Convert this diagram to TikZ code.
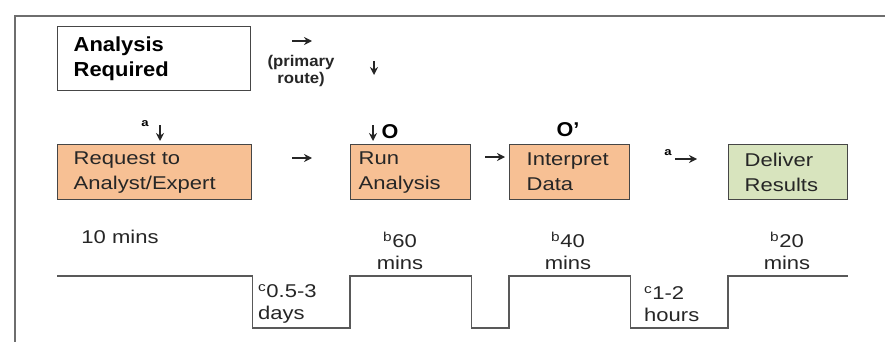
\documentclass[tikz,border=0pt]{standalone}
\usepackage{fontspec}
\usetikzlibrary{arrows.meta}
\setmainfont[FakeStretch=1.19]{Liberation Sans}
\newfontfamily\headfont[FakeStretch=1.08]{Liberation Sans}
\definecolor{boxorange}{RGB}{247,192,148}
\definecolor{boxgreen}{RGB}{216,228,190}
\definecolor{edgegray}{RGB}{70,70,70}
\definecolor{framegray}{RGB}{110,110,110}
\begin{document}
\begin{tikzpicture}[x=1pt,y=-1pt,
  txt/.style={font=\fontsize{18.5}{22}\selectfont, inner sep=0pt, text=black!85},
  supa/.style={font=\fontsize{11}{11}\selectfont\bfseries, inner sep=0pt},
  marktxt/.style={font=\headfont\fontsize{20}{22}\selectfont\bfseries, inner sep=0pt},
  procbox/.style={draw=edgegray, line width=1.4pt, anchor=north west, minimum height=55pt,
    align=left, font=\fontsize{18.5}{25}\selectfont, inner ysep=0pt, text=black!85},
  glypharrow/.style={draw=black!85, line width=1.8pt, -{Stealth[length=8pt,width=8pt]}},
  stepline/.style={draw=edgegray!90, line width=1.4pt},
  frameline/.style={draw=framegray, line width=2pt}]
\useasboundingbox (0,0) rectangle (885,342);
% frame
\draw[frameline] (15,342) -- (15,16) -- (885,16);
% top box
\node[procbox, minimum height=64pt, inner xsep=16pt, text width=161pt,
      font=\headfont\fontsize{20.3}{25}\selectfont\bfseries, text=black] (req0) at (57,26) {Analysis\\Required};
\coordinate (arrA) at (302,41);
\draw[glypharrow] ([xshift=-10pt]arrA) -- ([xshift=10pt]arrA);
\node[font=\headfont\fontsize{15.5}{17}\selectfont\bfseries, align=center, inner sep=0pt, text=black!85] (prim) at (301,71) {(primary\\route)};
\coordinate (arrB) at (374,68);
\draw[glypharrow] ([yshift=7pt]arrB) -- ([yshift=-7pt]arrB);
% process boxes
\node[procbox, fill=boxorange, inner xsep=16pt, text width=162pt] (req) at (57,144) {Request to\\Analyst/Expert};
\node[procbox, fill=boxorange, inner xsep=8pt, text width=104pt] (run) at (350,144) {Run\\Analysis};
\node[procbox, fill=boxorange, inner xsep=17pt, text width=86pt] (int) at (509,144) {Interpret\\Data};
\node[procbox, fill=boxgreen, inner xsep=16pt, text width=87pt] (del) at (728,144) {Deliver\\Results};
% markers above boxes
\node[supa] (a1) at (145,124) {a};
\coordinate (arrC) at (160,133);
\draw[glypharrow] ([yshift=8pt]arrC) -- ([yshift=-8pt]arrC);
\coordinate (arrD) at (373,133);
\draw[glypharrow] ([yshift=8pt]arrD) -- ([yshift=-8pt]arrD);
\node[marktxt] (O1) at (390,132) {O};
\node[marktxt] (O2) at (568,130) {O’};
% arrows between boxes
\coordinate (arrE) at (302,158);
\draw[glypharrow] ([xshift=-10pt]arrE) -- ([xshift=10pt]arrE);
\coordinate (arrF) at (495,157);
\draw[glypharrow] ([xshift=-10pt]arrF) -- ([xshift=10pt]arrF);
\node[supa] (a2) at (668,153) {a};
\coordinate (arrG) at (686,159);
\draw[glypharrow] ([xshift=-11pt]arrG) -- ([xshift=11pt]arrG);
% timings
\node[txt] (t1) at (120,237) {10 mins};
\node[txt, align=center] (t2) at (400,251) {\textsuperscript{b}60\\mins};
\node[txt, align=center] (t3) at (568,251) {\textsuperscript{b}40\\mins};
\node[txt, align=center] (t4) at (787,251) {\textsuperscript{b}20\\mins};
\node[txt, align=left, anchor=west] (w1) at (258,304) {\textsuperscript{c}0.5-3\\days};
\node[txt, align=left, anchor=west] (w2) at (644,304) {\textsuperscript{c}1-2\\hours};
% step line
\coordinate (hi) at (0,276);
\coordinate (lo) at (0,328);
\draw[stepline] (req.west |- hi) -- (req.east |- hi) -- (req.east |- lo) -- (run.west |- lo)
  -- (run.west |- hi) -- (run.east |- hi) -- (run.east |- lo) -- (int.west |- lo)
  -- (int.west |- hi) -- (int.east |- hi) -- (int.east |- lo) -- (del.west |- lo)
  -- (del.west |- hi) -- (del.east |- hi);
\end{tikzpicture}
\end{document}
